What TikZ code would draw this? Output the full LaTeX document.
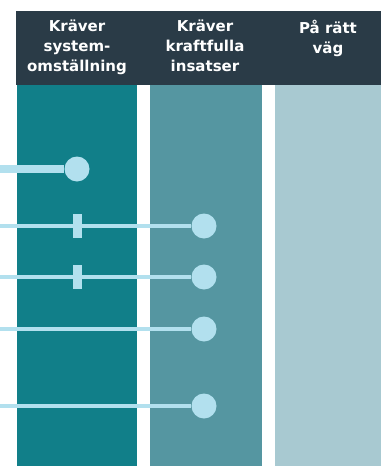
\documentclass[tikz,border=0pt]{standalone}
\usepackage{fontspec}
\setsansfont{DejaVu Sans}
\usepackage{tikz}

\definecolor{headdark}{HTML}{2A3B47}
\definecolor{colfirst}{HTML}{117F89}
\definecolor{colsecond}{HTML}{5596A1}
\definecolor{colthird}{HTML}{A8C9D1}
\definecolor{dotblue}{HTML}{B2E0EE}

\begin{document}
\begin{tikzpicture}[x=1pt,y=-1pt]
	\tikzstyle{column}=[rectangle,anchor=north west,inner sep=0pt,minimum height=381pt]
	\tikzstyle{head}=[anchor=north,align=center,text=white,inner sep=3pt,font=\sffamily\bfseries\fontsize{15}{20}\selectfont]
	\tikzstyle{dot}=[circle,fill=dotblue,inner sep=0pt,minimum size=25pt]
	\tikzstyle{notch}=[rectangle,fill=dotblue,inner sep=0pt,minimum width=9pt,minimum height=24pt]
	\tikzstyle{link}=[dotblue,line width=4.5pt]
	\useasboundingbox (0,0) rectangle (381,466);
	% header band and columns
	\node (header) at (16,11) [rectangle,fill=headdark,anchor=north west,inner sep=0pt,minimum width=365pt,minimum height=74pt] {};
	\node (colA) at (17,85)  [column,fill=colfirst,minimum width=120pt] {};
	\node (colB) at (150,85) [column,fill=colsecond,minimum width=112pt] {};
	\node (colC) at (275,85) [column,fill=colthird,minimum width=106pt] {};
	\node (headA) at (77,17)  [head] {Kräver\\system-\\omställning};
	\node (headB) at (205,17) [head] {Kräver\\kraftfulla\\insatser};
	\node (headC) at (328,17) [head] {På rätt\\väg};
	% rows
	\coordinate (start1) at (0,169);
	\coordinate (start2) at (0,226);
	\coordinate (start3) at (0,277);
	\coordinate (start4) at (0,329);
	\coordinate (start5) at (0,406);
	\node (dot1) at (77,169)  [dot] {};
	\node (dot2) at (204,226) [dot] {};
	\node (dot3) at (204,277) [dot] {};
	\node (dot4) at (204,329) [dot] {};
	\node (dot5) at (204,406) [dot] {};
	\node (notch2) at (77,226) [notch] {};
	\node (notch3) at (77,277) [notch] {};
	\draw [link,line width=8pt] (start1) -- (dot1);
	\draw [link] (start2) -- (dot2);
	\draw [link] (start3) -- (dot3);
	\draw [link] (start4) -- (dot4);
	\draw [link] (start5) -- (dot5);
\end{tikzpicture}
\end{document}
